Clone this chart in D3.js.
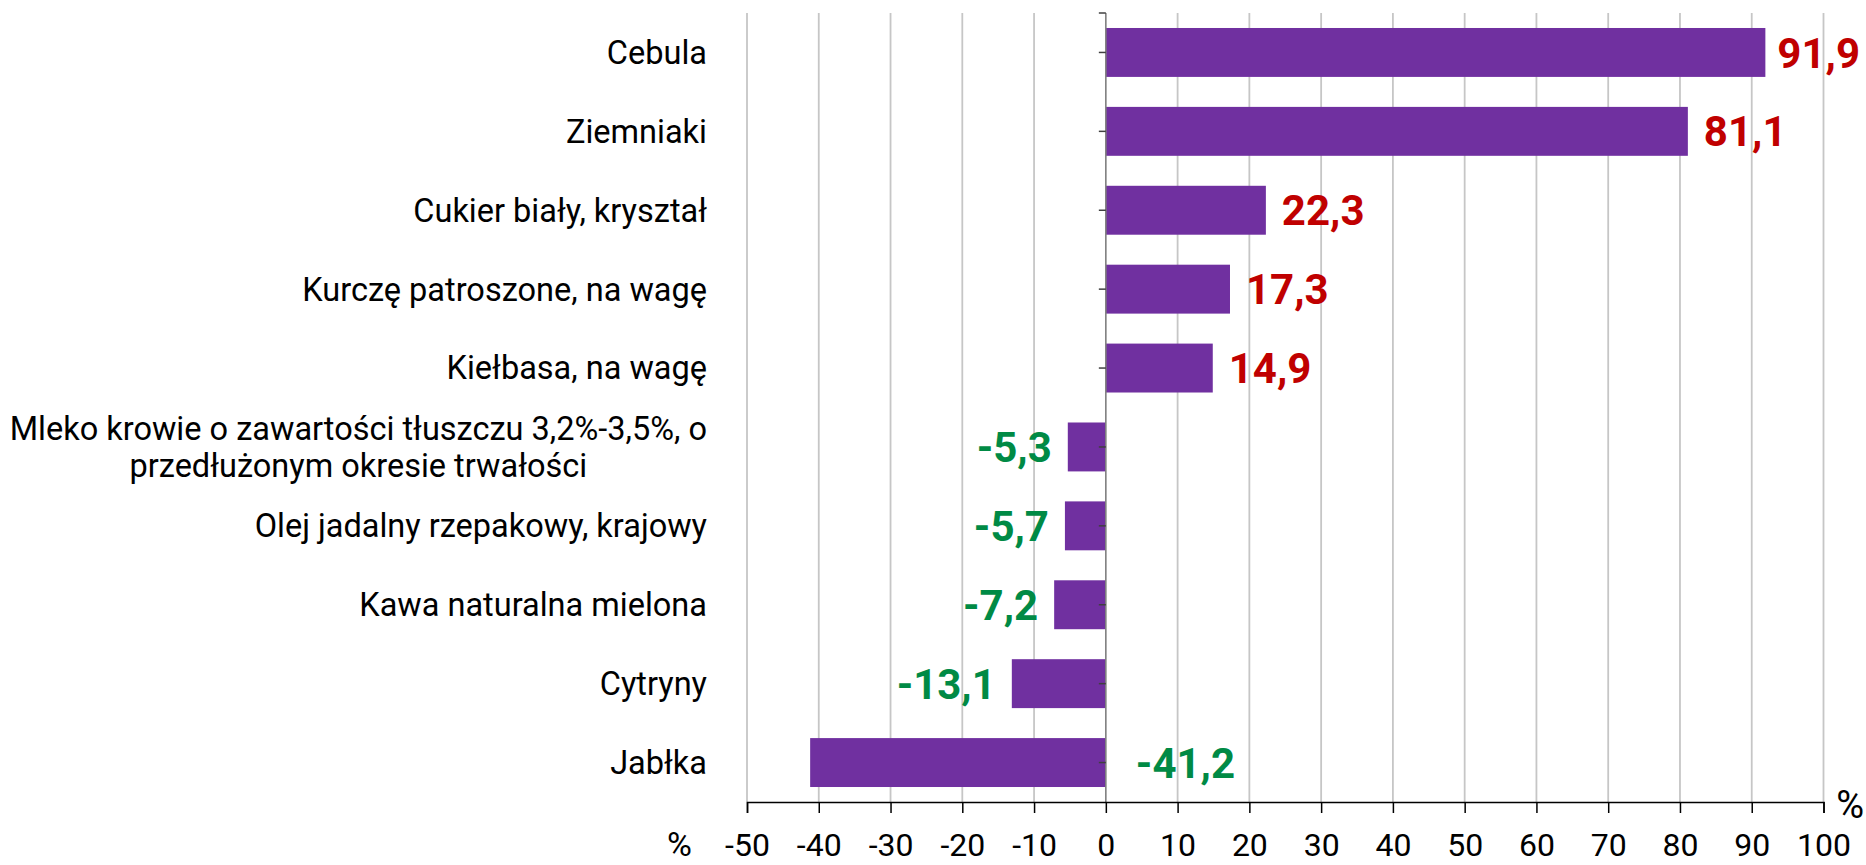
<!DOCTYPE html>
<html>
<head>
<meta charset="utf-8">
<script src="https://cdn.jsdelivr.net/npm/d3@7"></script>
<style>
  body { margin: 0; background: #fff; }
  svg { display: block; font-family: Roboto, "Noto Sans", sans-serif; }
</style>
</head>
<body>
<svg width="1866" height="865"></svg>
<script>
(function (d3) {

  const categories = [
    'Cebula',
    'Ziemniaki',
    'Cukier biały, kryształ',
    'Kurczę patroszone, na wagę',
    'Kiełbasa, na wagę',
    'Mleko krowie o zawartości tłuszczu 3,2%-3,5%, o|przedłużonym okresie trwałości',
    'Olej jadalny rzepakowy, krajowy',
    'Kawa naturalna mielona',
    'Cytryny',
    'Jabłka'
  ];
  const values = [91.9, 81.1, 22.3, 17.3, 14.9, -5.3, -5.7, -7.2, -13.1, -41.2];
  const tickValues = [-50, -40, -30, -20, -10, 0, 10, 20, 30, 40, 50, 60, 70, 80, 90, 100];

  const width = 1866;
  const left = 747, right = 1823.5, top = 13, bottom = 802;

  const svg = d3.select('svg');
  const fmt = v => v.toFixed(1).replace('.', ',');

  const x = d3.scaleLinear()
    .domain([-50, 100])
    .range([left, right]);

  const y = d3.scaleBand()
    .domain(categories)
    .range([top, bottom])
    .paddingInner(0.38)
    .paddingOuter(0.19);

  const mid = d => y(d) + y.bandwidth() / 2;

  // gridlines
  svg.append('g')
    .selectAll('line')
    .data(tickValues.filter(t => t !== 0))
    .enter().append('line')
      .attr('x1', d => x(d)).attr('x2', d => x(d))
      .attr('y1', top).attr('y2', bottom)
      .attr('stroke', '#c6c6c6')
      .attr('stroke-width', 1.8);

  // bars
  const rows = categories.map((c, i) => ({ cat: c, value: values[i] }));
  svg.append('g')
    .selectAll('rect')
    .data(rows)
    .enter().append('rect')
      .attr('x', d => x(Math.min(0, d.value)))
      .attr('y', d => y(d.cat))
      .attr('width', d => Math.abs(x(d.value) - x(0)))
      .attr('height', y.bandwidth())
      .attr('fill', '#7030a0');

  // zero axis with small ticks
  const zeroG = svg.append('g');
  zeroG.append('line')
    .attr('x1', x(0)).attr('x2', x(0))
    .attr('y1', top).attr('y2', bottom)
    .attr('stroke', '#7f7f7f')
    .attr('stroke-width', 1.6);
  zeroG.selectAll('.tick')
    .data([top].concat(categories.map(mid)))
    .enter().append('line')
      .attr('class', 'tick')
      .attr('x1', x(0) - 7).attr('x2', x(0))
      .attr('y1', d => d).attr('y2', d => d)
      .attr('stroke', '#404040')
      .attr('stroke-width', 1.5);

  // bottom axis
  const xAxis = d3.axisBottom(x)
    .tickValues(tickValues)
    .tickSize(11)
    .tickPadding(20)
    .tickFormat(d => String(d));

  const axisG = svg.append('g')
    .attr('transform', `translate(0,${bottom})`)
    .call(xAxis);
  axisG.select('.domain')
    .attr('stroke', '#000')
    .attr('stroke-width', 1.5);
  axisG.selectAll('.tick line')
    .attr('stroke', '#000')
    .attr('stroke-width', 1.5);
  axisG.selectAll('.tick text')
    .attr('fill', '#000')
    .attr('font-size', 32)
    .attr('font-family', 'Roboto, sans-serif');

  svg.append('text')
    .attr('x', 692).attr('y', 856)
    .attr('text-anchor', 'end')
    .attr('font-size', 34)
    .text('%');

  svg.append('text')
    .attr('x', 1864).attr('y', 818)
    .attr('text-anchor', 'end')
    .attr('font-size', 38)
    .text('%');

  // category labels
  const catG = svg.append('g');
  categories.forEach(c => {
    const lines = c.split('|');
    const lh = 37;
    const t = catG.append('text')
      .attr('font-size', 32.5)
      .attr('fill', '#000')
      .attr('text-anchor', 'middle');
    lines.forEach((ln, i) => {
      t.append('tspan')
        .attr('y', mid(c) + (i - (lines.length - 1) / 2) * lh)
        .attr('dy', '0.35em')
        .text(ln);
    });
    let w = 0;
    t.selectAll('tspan').each(function () {
      w = Math.max(w, this.getComputedTextLength());
    });
    t.selectAll('tspan').attr('x', 707 - w / 2);
  });

  // value labels
  const labelG = svg.append('g');
  rows.forEach(d => {
    const t = labelG.append('text')
      .attr('y', mid(d.cat))
      .attr('dy', '0.36em')
      .attr('font-size', 42)
      .attr('font-weight', 'bold')
      .attr('fill', d.value >= 0 ? '#c00000' : '#008a45')
      .text(fmt(d.value));
    const w = t.node().getComputedTextLength();
    const gap = 16;
    let tx;
    if (d.value >= 0) {
      tx = Math.min(x(d.value) + gap, width - 6 - w);
    } else if (x(d.value) - gap - w < left) {
      tx = x(0) + 30;
    } else {
      tx = x(d.value) - gap - w;
    }
    t.attr('x', tx);
  });

}(d3));
</script>
</body>
</html>
